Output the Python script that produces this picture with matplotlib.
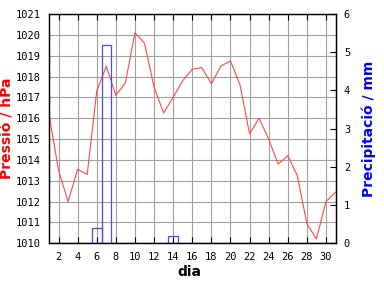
import matplotlib
matplotlib.use("Agg")
import matplotlib.pyplot as plt

days = list(range(1, 32))
pressure = [1016.2, 1013.5, 1012.0, 1013.55, 1013.3, 1017.3, 1018.5, 1017.1, 1017.7, 1020.1,
            1019.6, 1017.5, 1016.25, 1017.0, 1017.8, 1018.35, 1018.43, 1017.65, 1018.5, 1018.75,
            1017.6, 1015.25, 1016.0, 1015.0, 1013.8, 1014.2, 1013.25, 1010.95, 1010.2, 1012.0, 1012.45]
precip = [0, 0, 0, 0, 0, 0.4, 5.2, 0, 0, 0, 0, 0, 0, 0.2, 0, 0, 0, 0, 0, 0,
          0, 0, 0, 0, 0, 0, 0, 0, 0, 0, 0]
xticks = list(range(2, 31, 2))
p_ticks = list(range(1010, 1022))
r_ticks = list(range(0, 7))

fig = plt.figure(figsize=(3.84, 2.88), dpi=100)
ax = fig.add_axes([49/384, 1 - 243.3/288, (335.5 - 49)/384, (243.3 - 14)/288])
ax2 = ax.twinx()

ax.set_xlim(1, 31)
ax.set_ylim(1010, 1021)
ax2.set_ylim(0, 6)

ax.set_xticks(xticks)
ax.set_yticks(p_ticks)
ax2.set_yticks(r_ticks)
ax.grid(True, color='#a0a0a0', linewidth=0.8)
ax.set_axisbelow(True)

ax.plot(days, pressure, color='#ff4848', linewidth=0.8, zorder=3)
ax2.bar(days, precip, width=1.0, fill=False, edgecolor='#4848ff', linewidth=0.9)

tf = dict(family='DejaVu Sans Mono', size=7.5)
ax.set_xticklabels([str(t) for t in xticks], **tf)
ax.set_yticklabels([str(t) for t in p_ticks], **tf)
ax2.set_yticklabels([str(t) for t in r_ticks], **tf)

ax.tick_params(axis='x', direction='in', top=True, bottom=True, length=4, width=0.8, pad=6)
ax.tick_params(axis='y', length=0, pad=6)
ax2.tick_params(axis='y', direction='in', length=4, width=0.8, pad=6)

for a in (ax, ax2):
    for s in a.spines.values():
        s.set_linewidth(0.9)
        s.set_color('black')

lf = dict(fontsize=10, fontweight='semibold')
fig.text(7.5/384, 1 - 128/288, 'Pressió / hPa', color='#ff0000', rotation=90,
         ha='center', va='center', **lf)
fig.text(369/384, 1 - 129/288, 'Precipitació / mm', color='#0000ff', rotation=90,
         ha='center', va='center', **lf)
fig.text(189/384, 1 - 272/288, 'dia', color='black', ha='center', va='center', **lf)

fig.savefig('out.png', dpi=100)
